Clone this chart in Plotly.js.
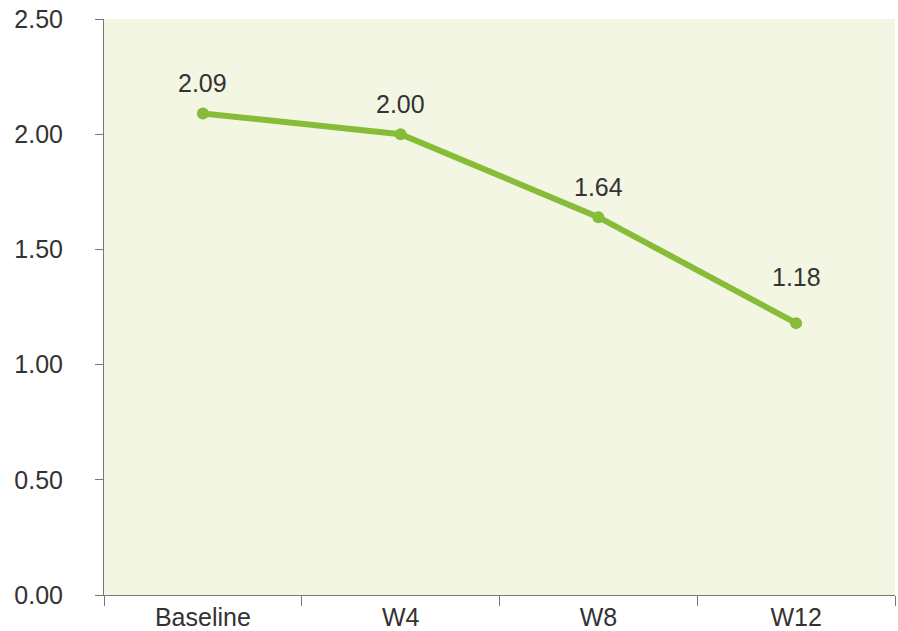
<!DOCTYPE html>
<html>
<head>
<meta charset="utf-8">
<script src="https://cdn.plot.ly/plotly-3.0.1.min.js"></script>
<style>html,body{margin:0;padding:0;background:#fff;}#chart{width:898px;height:631px;}</style>
</head>
<body>
<div id="chart"></div>
<script>
// Timepoints and mean scores
const timepoints = ["Baseline", "W4", "W8", "W12"];
const scores = [2.09, 2.00, 1.64, 1.18];
const yTicks = [0, 0.5, 1.0, 1.5, 2.0, 2.5];
const yTickLabels = ["0.00", "0.50", "1.00", "1.50", "2.00", "2.50"];

const FONT = "Liberation Sans, Arial, sans-serif";
const GREEN = "#86bc37";
// vertical gap (px) between each point and its value label
const LABEL_GAP = [14, 14, 14, 30];

const trace = {
  x: timepoints,
  y: scores,
  type: "scatter",
  mode: "lines+markers",
  line: {color: GREEN, width: 6},
  marker: {color: GREEN, size: 12},
  hoverinfo: "skip"
};

// Value labels sit above each point
const labels = timepoints.map((t, i) => ({
  x: t,
  y: scores[i],
  xref: "x",
  yref: "y",
  text: scores[i].toFixed(2),
  showarrow: false,
  yanchor: "bottom",
  yshift: LABEL_GAP[i],
  font: {family: FONT, size: 25, color: "#333333"}
}));

const layout = {
  width: 898, height: 631,
  margin: {l: 104, r: 3, t: 19, b: 36},
  paper_bgcolor: "#ffffff",
  plot_bgcolor: "#f3f6e3",
  showlegend: false,
  font: {family: FONT, size: 25, color: "#333333"},
  annotations: labels,
  xaxis: {
    type: "category",
    range: [-0.5, 3.5],
    tickson: "boundaries",
    ticks: "outside",
    ticklen: 10,
    tickcolor: "#777777",
    showline: true,
    linecolor: "#777777",
    linewidth: 1,
    showgrid: false,
    zeroline: false,
    tickfont: {size: 25, color: "#333333"}
  },
  yaxis: {
    range: [0, 2.5],
    tickvals: yTicks,
    ticktext: yTickLabels,
    ticks: "outside",
    ticklen: 8,
    tickcolor: "#777777",
    ticklabelstandoff: 27,
    showline: true,
    linecolor: "#777777",
    linewidth: 1,
    showgrid: false,
    zeroline: false,
    tickfont: {size: 25, color: "#333333"}
  }
};

Plotly.newPlot("chart", [trace], layout, {staticPlot: true, displayModeBar: false});
</script>
</body>
</html>
